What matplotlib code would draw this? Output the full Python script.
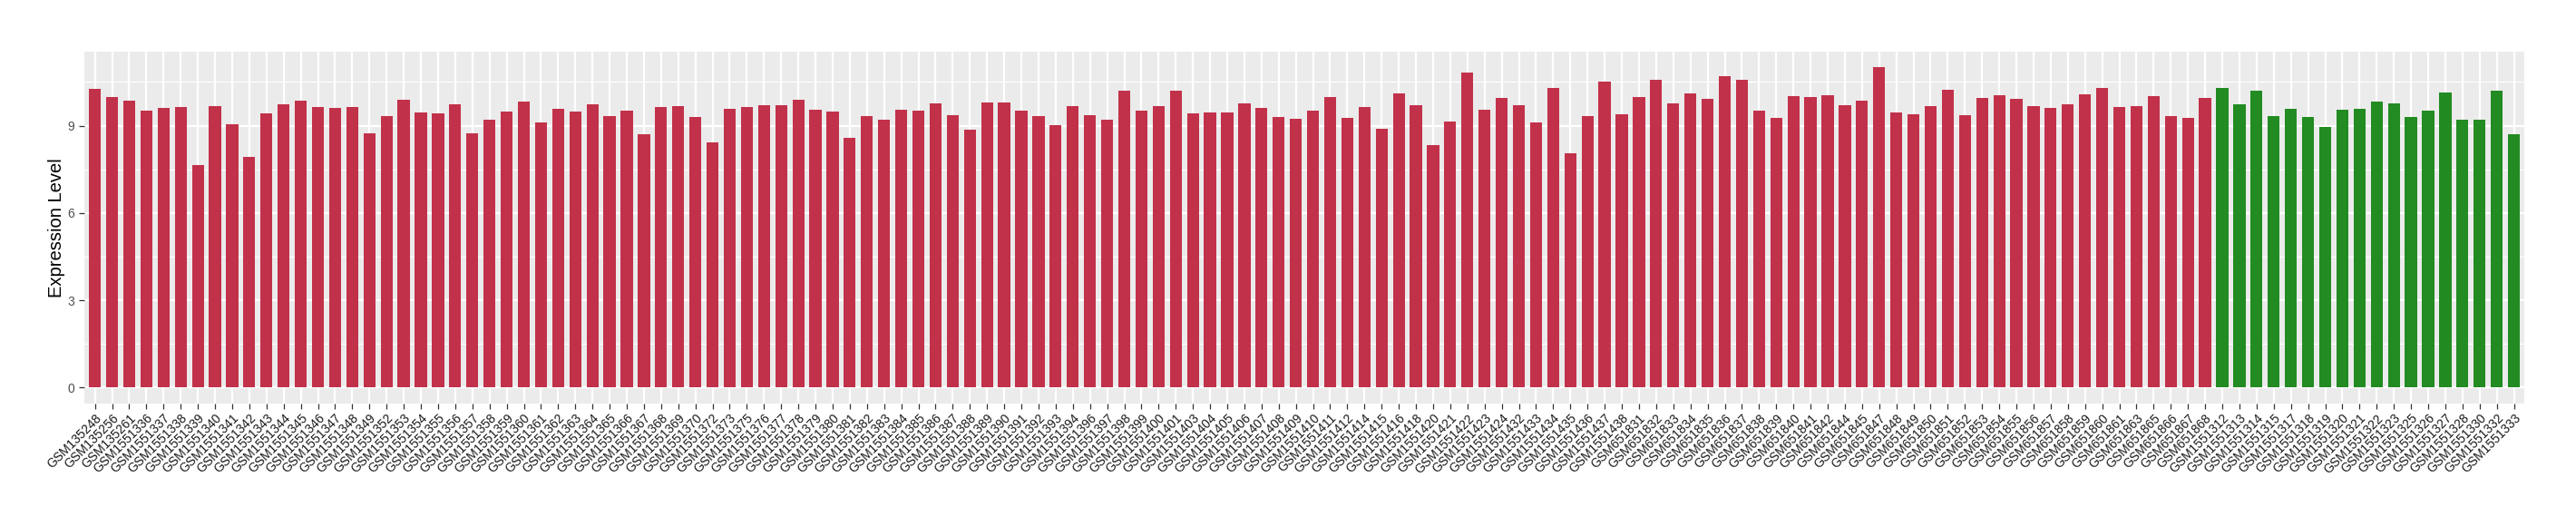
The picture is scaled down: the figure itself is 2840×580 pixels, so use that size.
import matplotlib
matplotlib.use("Agg")
import matplotlib.pyplot as plt
from matplotlib.ticker import MultipleLocator
import numpy as np

# red group samples
samples_a = [
    "GSM135248", "GSM135256", "GSM135261",
    "GSM1551336", "GSM1551337", "GSM1551338", "GSM1551339", "GSM1551340",
    "GSM1551341", "GSM1551342", "GSM1551343", "GSM1551344", "GSM1551345",
    "GSM1551346", "GSM1551347", "GSM1551348", "GSM1551349", "GSM1551352",
    "GSM1551353", "GSM1551354", "GSM1551355", "GSM1551356", "GSM1551357",
    "GSM1551358", "GSM1551359", "GSM1551360", "GSM1551361", "GSM1551362",
    "GSM1551363", "GSM1551364", "GSM1551365", "GSM1551366", "GSM1551367",
    "GSM1551368", "GSM1551369", "GSM1551370", "GSM1551372", "GSM1551373",
    "GSM1551375", "GSM1551376", "GSM1551377", "GSM1551378", "GSM1551379",
    "GSM1551380", "GSM1551381", "GSM1551382", "GSM1551383", "GSM1551384",
    "GSM1551385", "GSM1551386", "GSM1551387", "GSM1551388", "GSM1551389",
    "GSM1551390", "GSM1551391", "GSM1551392", "GSM1551393", "GSM1551394",
    "GSM1551396", "GSM1551397", "GSM1551398", "GSM1551399", "GSM1551400",
    "GSM1551401", "GSM1551403", "GSM1551404", "GSM1551405", "GSM1551406",
    "GSM1551407", "GSM1551408", "GSM1551409", "GSM1551410", "GSM1551411",
    "GSM1551412", "GSM1551414", "GSM1551415", "GSM1551416", "GSM1551418",
    "GSM1551420", "GSM1551421", "GSM1551422", "GSM1551423", "GSM1551424",
    "GSM1551432", "GSM1551433", "GSM1551434", "GSM1551435", "GSM1551436",
    "GSM1551437", "GSM1551438",
    "GSM651831", "GSM651832", "GSM651833", "GSM651834", "GSM651835",
    "GSM651836", "GSM651837", "GSM651838", "GSM651839", "GSM651840",
    "GSM651841", "GSM651842", "GSM651844", "GSM651845", "GSM651847",
    "GSM651848", "GSM651849", "GSM651850", "GSM651851", "GSM651852",
    "GSM651853", "GSM651854", "GSM651855", "GSM651856", "GSM651857",
    "GSM651858", "GSM651859", "GSM651860", "GSM651861", "GSM651863",
    "GSM651865", "GSM651866", "GSM651867", "GSM651868",
]
values_a = [
    10.25, 9.97, 9.85, 9.51, 9.60, 9.63, 7.64, 9.66, 9.04, 7.92, 9.41, 9.72,
    9.85, 9.63, 9.60, 9.63, 8.73, 9.32, 9.88, 9.44, 9.41, 9.72, 8.73, 9.20,
    9.48, 9.82, 9.10, 9.57,
    9.48, 9.72, 9.32, 9.51, 8.70, 9.63, 9.66, 9.29, 8.42, 9.57, 9.63, 9.69,
    9.69, 9.88, 9.54, 9.48, 8.58, 9.32, 9.20, 9.54, 9.51, 9.76, 9.35, 8.86,
    9.79, 9.79, 9.51, 9.32,
    9.01, 9.66, 9.35, 9.20, 10.19, 9.51, 9.66, 10.19, 9.41, 9.44, 9.44, 9.76,
    9.60, 9.29, 9.23, 9.51, 9.97, 9.26, 9.63, 8.89, 10.10, 9.69, 8.33, 9.13,
    10.84, 9.54, 9.94, 9.69,
    9.10, 10.31, 8.05, 9.32, 10.50, 9.38, 9.97, 10.56, 9.76, 10.10, 9.91,
    10.69, 10.59, 9.51, 9.26, 10.00, 9.97, 10.03, 9.69, 9.85, 11.00, 9.44,
    9.38, 9.66, 10.22, 9.35, 9.94, 10.03, 9.91,
    9.66, 9.60, 9.72, 10.07, 10.31, 9.63, 9.66, 10.00, 9.32, 9.26, 9.94,
]

# green group samples
samples_b = [
    "GSM1551312", "GSM1551313", "GSM1551314", "GSM1551315", "GSM1551317",
    "GSM1551318", "GSM1551319", "GSM1551320", "GSM1551321", "GSM1551322",
    "GSM1551323", "GSM1551325", "GSM1551326", "GSM1551327", "GSM1551328",
    "GSM1551330", "GSM1551332", "GSM1551333",
]
values_b = [
    10.31, 9.72, 10.19, 9.32, 9.57, 9.29, 8.95, 9.54, 9.57, 9.82, 9.76, 9.29,
    9.51, 10.13, 9.20, 9.20, 10.19, 8.70,
]

color_a = "#C2314A"
color_b = "#228B22"

plt.rcParams['font.family'] = ['Liberation Sans', 'DejaVu Sans']

samples = samples_a + samples_b
values = values_a + values_b
colors = [color_a] * len(samples_a) + [color_b] * len(samples_b)
x = np.arange(len(samples))

fig = plt.figure(figsize=(28.4, 5.8), dpi=100)
ax = fig.add_axes([0.03285, 0.2328, 0.9799 - 0.03285, 0.9022 - 0.2328])

ax.set_facecolor("#EBEBEB")
ax.bar(x, values, width=0.7, color=colors, zorder=3)

ax.set_xlim(-0.6, len(samples) - 0.4)
ax.set_ylim(-0.55, 11.55)
ax.yaxis.set_major_locator(MultipleLocator(3))
ax.yaxis.set_minor_locator(MultipleLocator(1.5))
ax.set_xticks(x)
ax.set_xticklabels(samples, rotation=45, ha="right", va="top",
                   rotation_mode="anchor", fontsize=10, color="#1A1A1A")

ax.grid(True, which="major", color="white", linewidth=1.6, zorder=0)
ax.grid(True, which="minor", axis="y", color="white", linewidth=0.8, zorder=0)
ax.set_axisbelow(True)
for s in ax.spines.values():
    s.set_visible(False)

ax.tick_params(axis="both", which="major", length=4.5, width=0.9,
               color="#333333", labelsize=10, labelcolor="#4D4D4D")
ax.tick_params(axis="x", labelcolor="#1A1A1A", pad=2)
ax.tick_params(axis="y", which="minor", length=0)

ax.set_ylabel("Expression Level", fontsize=14.5, labelpad=2)

fig.savefig("out.png", dpi=100)
